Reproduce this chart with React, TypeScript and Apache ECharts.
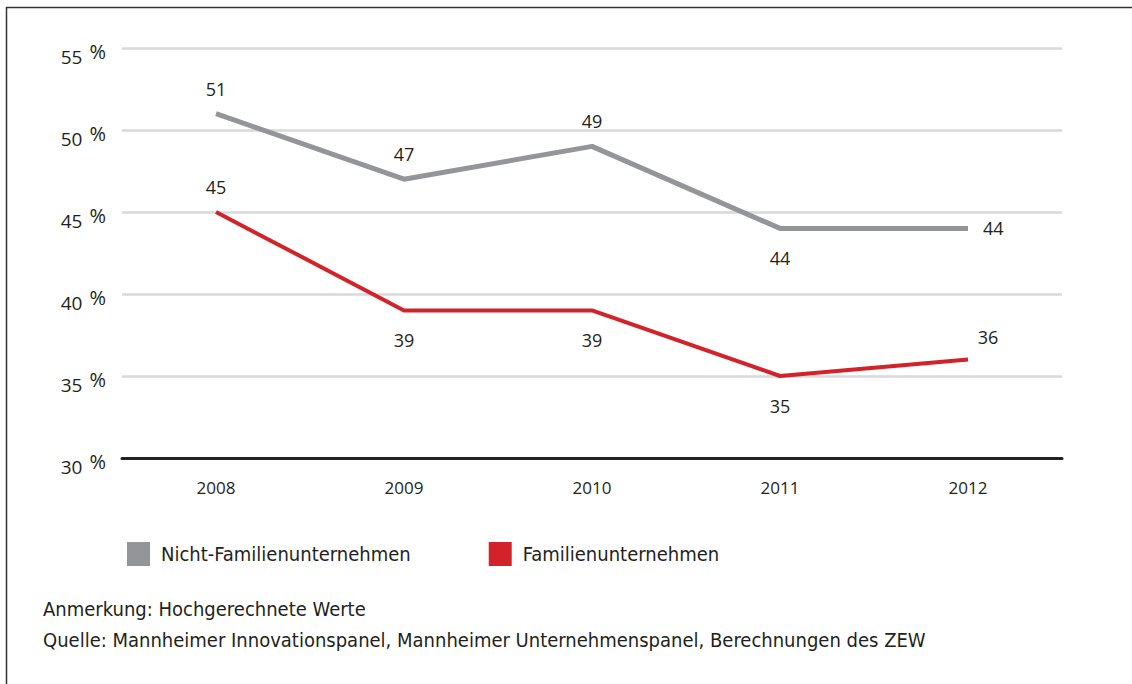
import React, { useEffect, useRef } from "react";
import * as echarts from "echarts";

const years = ["2008", "2009", "2010", "2011", "2012"];
const nichtFamilien = [51, 47, 49, 44, 44];
const familien = [45, 39, 39, 35, 36];
const nichtPos = ["top", "top", "top", "bottom", "right"];
const famPos = ["top", "bottom", "bottom", "bottom", "topRight"];
const seriesNames = ["Nicht-Familienunternehmen", "Familienunternehmen"];
const noteLines = [
  "Anmerkung: Hochgerechnete Werte",
  "Quelle: Mannheimer Innovationspanel, Mannheimer Unternehmenspanel, Berechnungen des ZEW",
];

const TEXT = "#231f20";
const NUM_FONT = "'Open Sans', 'DejaVu Sans', sans-serif";
const TXT_FONT = "'Liberation Sans Narrow', 'DejaVu Sans Condensed', 'Roboto', sans-serif";

function labelFor(pos: string) {
  if (pos === "top") return { show: true, position: "top", distance: 16 };
  if (pos === "bottom") return { show: true, position: "bottom", distance: 21 };
  if (pos === "right") return { show: true, position: "right", distance: 15 };
  return { show: true, position: "top", distance: 14, offset: [20, 0] };
}

export default function App() {
  const ref = useRef<HTMLDivElement>(null);
  useEffect(() => {
    const chart = echarts.init(ref.current!, undefined, { renderer: "svg" });
    const labelStyle = { show: true, color: TEXT, fontSize: 18, fontFamily: NUM_FONT };
    chart.setOption({
      animation: false,
      backgroundColor: "#fff",
      grid: { left: 122, right: 70, top: 48, bottom: 226 },
      xAxis: {
        type: "category",
        data: years,
        boundaryGap: true,
        axisLine: { lineStyle: { color: "#222", width: 3 } },
        axisTick: { show: false },
        axisLabel: { color: TEXT, fontSize: 17, fontFamily: NUM_FONT, margin: 21 },
      },
      yAxis: {
        type: "value",
        min: 30,
        max: 55,
        interval: 5,
        axisLine: { show: false },
        axisTick: { show: false },
        axisLabel: {
          formatter: (v: number) => `{n|${v}}{p|%}`,
          margin: 16,
          padding: [10, 0, 0, 0],
          rich: {
            n: { color: TEXT, fontSize: 19, fontFamily: NUM_FONT, padding: [8, 0, 0, 0] },
            p: { color: TEXT, fontSize: 20, fontFamily: NUM_FONT, padding: [0, 0, 4, 7] },
          },
        },
        splitLine: { lineStyle: { color: "#d9d9d9", width: 2.5 } },
      },
      legend: {
        left: 122,
        top: 537,
        itemWidth: 23,
        itemHeight: 24,
        itemGap: 78,
        icon: "rect",
        textStyle: { color: TEXT, fontSize: 20, fontFamily: TXT_FONT, padding: [0, 0, 0, 6] },
        data: seriesNames,
      },
      graphic: [
        {
          type: "rect",
          shape: { x: 6.5, y: 7.5, width: 1200, height: 800 },
          style: { fill: "none", stroke: "#333", lineWidth: 1.5 },
          silent: true,
        },
        {
          type: "text",
          left: 43,
          top: 599,
          style: { text: noteLines[0], fill: TEXT, fontSize: 20, fontFamily: TXT_FONT },
        },
        {
          type: "text",
          left: 43,
          top: 630,
          style: { text: noteLines[1], fill: TEXT, fontSize: 20, fontFamily: TXT_FONT },
        },
      ],
      series: [
        {
          name: seriesNames[0],
          type: "line",
          data: nichtFamilien.map((v, i) => ({ value: v, label: labelFor(nichtPos[i]) })),
          showSymbol: true,
          symbol: "circle",
          symbolSize: 0.1,
          color: "#939598",
          lineStyle: { color: "#939598", width: 5 },
          label: labelStyle,
        },
        {
          name: seriesNames[1],
          type: "line",
          data: familien.map((v, i) => ({ value: v, label: labelFor(famPos[i]) })),
          showSymbol: true,
          symbol: "circle",
          symbolSize: 0.1,
          color: "#d2232a",
          lineStyle: { color: "#d2232a", width: 4 },
          label: labelStyle,
        },
      ],
    });
    return () => chart.dispose();
  }, []);
  return (
    <div
      ref={ref}
      style={{ position: "fixed", left: 0, top: 0, width: 1132, height: 684, background: "#fff" }}
    />
  );
}
